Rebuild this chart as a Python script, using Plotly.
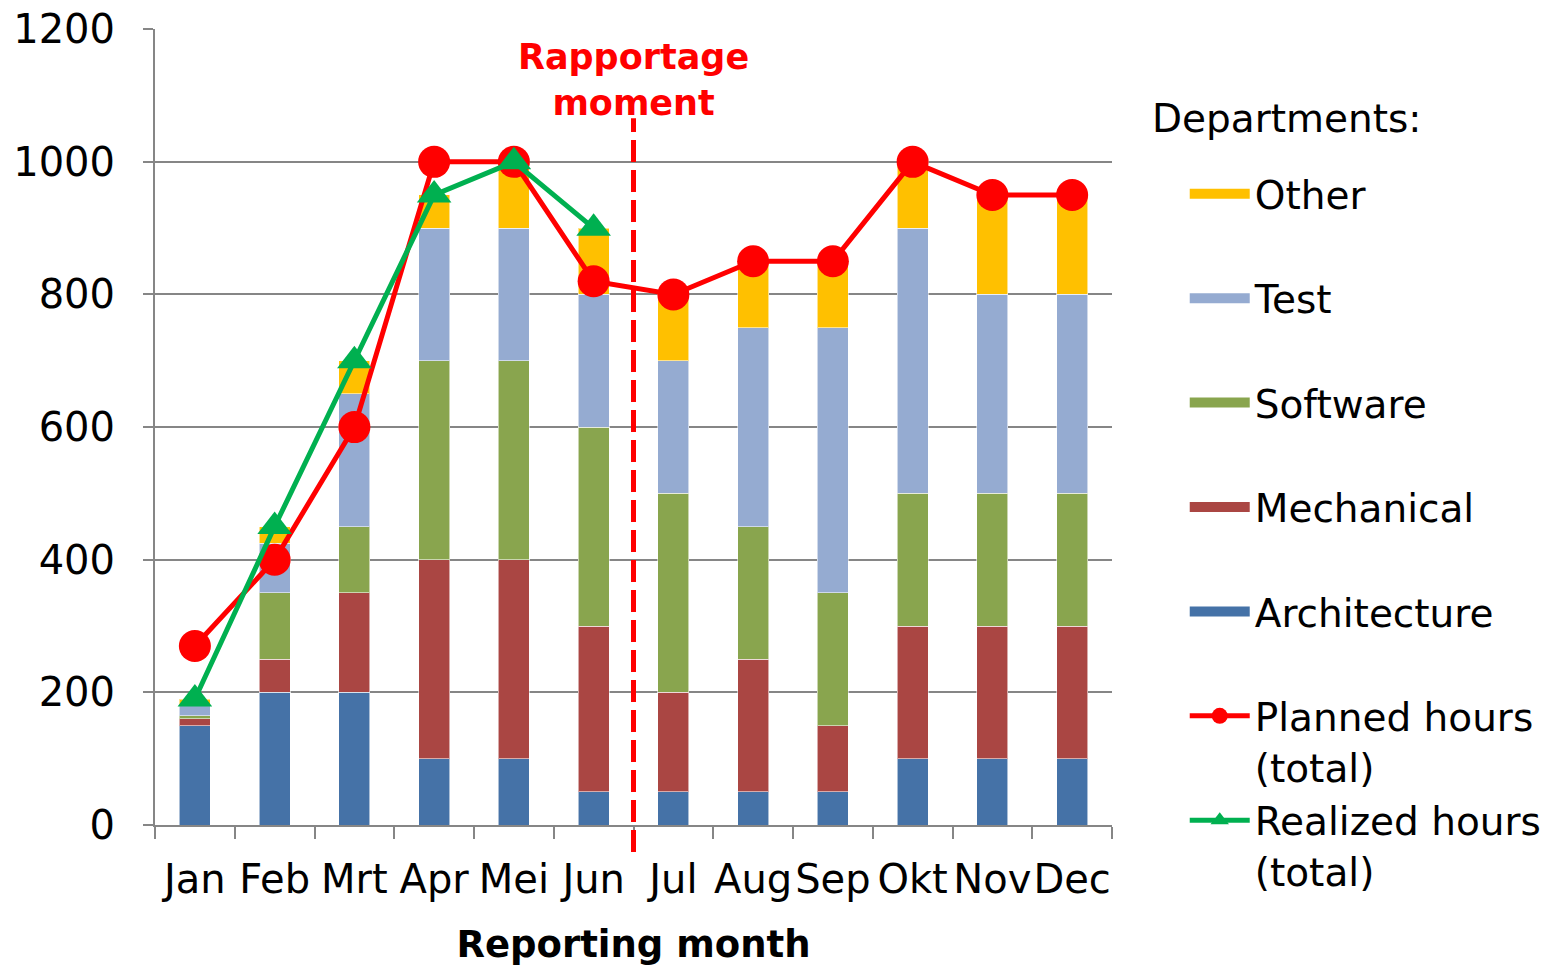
import plotly.graph_objects as go

months = ["Jan", "Feb", "Mrt", "Apr", "Mei", "Jun", "Jul", "Aug", "Sep", "Okt", "Nov", "Dec"]
architecture = [150, 200, 200, 100, 100, 50, 50, 50, 50, 100, 100, 100]
mechanical = [10, 50, 150, 300, 300, 250, 150, 200, 100, 200, 200, 200]
software = [5, 100, 100, 300, 300, 300, 300, 200, 200, 200, 200, 200]
test = [15, 75, 200, 200, 200, 200, 200, 300, 400, 400, 300, 300]
other = [10, 25, 50, 50, 100, 100, 100, 100, 100, 100, 150, 150]
planned = [270, 400, 600, 1000, 1000, 820, 800, 850, 850, 1000, 950, 950]
realized = [190, 450, 700, 950, 1000, 900, None, None, None, None, None, None]
y_ticks = [0, 200, 400, 600, 800, 1000, 1200]
report_after_index = 5.5  # between Jun and Jul

FONT = "DejaVu Sans"
NB = "\u00a0"

fig = go.Figure()
bar_series = [
    ("Architecture", architecture, "#4572A7", 5),
    ("Mechanical", mechanical, "#AA4643", 4),
    ("Software", software, "#89A54E", 3),
    ("Test", test, "#95ABD1", 2),
    ("Other", other, "#FFC000", 1),
]
for name, vals, col, rank in bar_series:
    fig.add_trace(go.Bar(
        x=months, y=vals, name=name, legendgroup=name, showlegend=False,
        marker=dict(color=col, line=dict(color="rgba(255,255,255,0.55)", width=1)),
    ))
    # legend entry drawn as a wide swatch (Excel-like)
    fig.add_trace(go.Scatter(
        x=[None], y=[None], mode="lines", name=name + "<br>" + NB, legendgroup=name,
        line=dict(color=col, width=22), legendrank=rank, hoverinfo="skip",
    ))

fig.add_trace(go.Scatter(
    x=months, y=planned, mode="lines+markers", name="Planned hours<br>(total)",
    line=dict(color="#FF0000", width=5),
    marker=dict(symbol="circle", size=32, color="#FF0000"),
    legendrank=6,
))
fig.add_trace(go.Scatter(
    x=months, y=realized, mode="lines+markers", name="Realized hours<br>(total)",
    line=dict(color="#00B050", width=5),
    marker=dict(symbol="triangle-up", size=30, color="#00B050"),
    legendrank=7,
))

n = len(months)
xp = (report_after_index + 0.5) / n
fig.add_shape(type="line", xref="paper", yref="paper", x0=xp, x1=xp, y0=-0.034, y1=0.888,
              line=dict(color="#FF0000", width=5, dash="22px,8px"), layer="above")
fig.add_annotation(xref="paper", yref="paper", x=xp, y=0.936, text="<b>Rapportage<br>moment</b>",
                   showarrow=False, font=dict(family=FONT, size=35, color="#FF0000"),
                   xanchor="center", yanchor="middle", align="center")
fig.add_annotation(xref="paper", yref="paper", x=1.0397, y=0.888, text="Departments:",
                   showarrow=False, font=dict(family=FONT, size=39, color="black"),
                   xanchor="left", yanchor="middle")

fig.update_layout(
    barmode="stack",
    bargap=0.61,
    width=1564, height=966,
    margin=dict(l=155, r=452, t=29, b=141, autoexpand=False),
    paper_bgcolor="white", plot_bgcolor="white",
    font=dict(family=FONT, size=40, color="black"),
    showlegend=True,
    legend=dict(
        x=1.076, xanchor="left", y=0.833, yanchor="top",
        valign="top", tracegroupgap=0, traceorder="normal",
        font=dict(family=FONT, size=39), itemwidth=60,
        bgcolor="rgba(0,0,0,0)", maxheight=950,
    ),
    xaxis=dict(
        range=[-0.5, n - 0.5], autorange=False,
        showline=True, linecolor="#868686", linewidth=2,
        ticks="outside", tickson="boundaries", ticklen=12, tickwidth=2, tickcolor="#868686",
        tickangle=0, tickfont=dict(family=FONT, size=40), ticklabelstandoff=18,
        title=dict(text="<b>Reporting month</b>", font=dict(family=FONT, size=37), standoff=31),
        showgrid=False,
    ),
    yaxis=dict(
        range=[0, 1200.3], autorange=False,
        tickmode="array", tickvals=y_ticks, ticktext=[str(v) for v in y_ticks],
        ticklabeloverflow="allow",
        showline=True, linecolor="#868686", linewidth=2,
        showgrid=True, gridcolor="#868686", gridwidth=2,
        ticks="outside", ticklen=10, tickwidth=2, tickcolor="#868686",
        ticklabelstandoff=20,
        tickfont=dict(family=FONT, size=40),
        zeroline=False,
    ),
)

# remove the browser's default 8px body margin so the figure fills the window exactly
fig.write_html("out.html", config={"displayModeBar": False},
               post_script="document.body.style.margin='0px';")
